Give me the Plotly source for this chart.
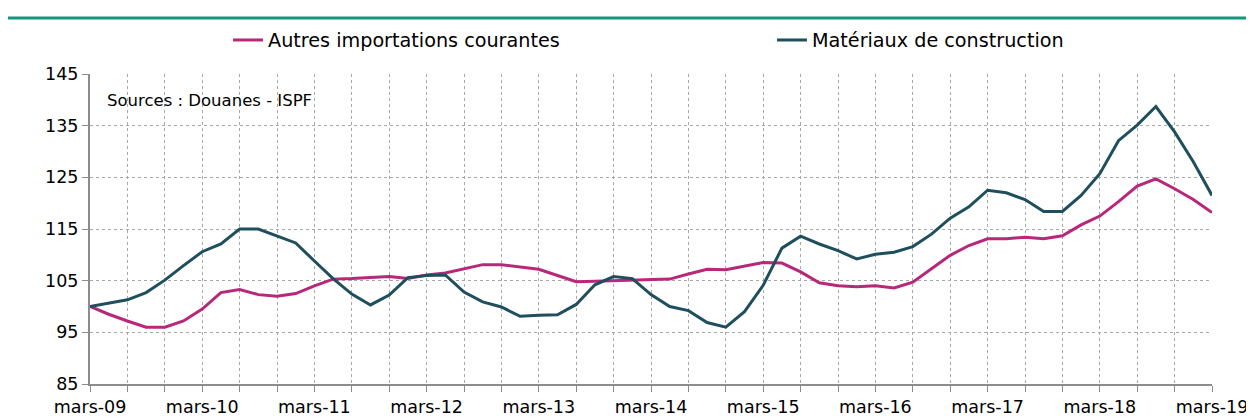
import plotly.graph_objects as go

months = ["mars", "mai", "juil", "sept", "nov", "janv"]
categories = []
for y in range(9, 20):
    for k, m in enumerate(months):
        yy = y + 1 if m == "janv" else y
        if yy > 19 or (yy == 19 and m not in ("janv", "mars")):
            continue
        categories.append(f"{m}-{yy:02d}")
categories = categories[:61]

autres = [100.0, 98.5, 97.2, 96.0, 96.0, 97.2, 99.5, 102.7, 103.3, 102.3,
          102.0, 102.5, 104.0, 105.3, 105.4, 105.6, 105.8, 105.4, 106.1, 106.5,
          107.3, 108.1, 108.1, 107.7, 107.2, 106.0, 104.8, 104.9, 105.0, 105.1,
          105.3, 105.3, 106.3, 107.2, 107.1, 107.8, 108.5, 108.4, 106.7, 104.6,
          104.0, 103.8, 104.0, 103.6, 104.7, 107.3, 109.9, 111.8, 113.1, 113.1,
          113.4, 113.1, 113.7, 115.8, 117.5, 120.3, 123.3, 124.7, 122.8, 120.7,
          118.2]

materiaux = [100.0, 100.7, 101.3, 102.7, 105.1, 107.9, 110.6, 112.1, 115.0, 115.0,
             113.7, 112.3, 108.8, 105.4, 102.4, 100.3, 102.2, 105.6, 106.0, 106.1,
             102.8, 100.9, 99.9, 98.1, 98.3, 98.4, 100.4, 104.2, 105.8, 105.4,
             102.3, 100.0, 99.2, 96.9, 96.0, 99.0, 104.1, 111.3, 113.6, 112.1,
             110.8, 109.2, 110.1, 110.5, 111.6, 114.0, 117.1, 119.3, 122.5, 122.0,
             120.7, 118.4, 118.4, 121.5, 125.7, 132.1, 135.1, 138.7, 133.8, 128.0,
             121.5]

y_ticks = [85, 95, 105, 115, 125, 135, 145]

FONT = "DejaVu Sans"
PINK = "#B8287A"
TEAL = "#1F4F5C"
GRID = "#a8a8a8"
AXIS = "#8c8c8c"

fig = go.Figure()
fig.add_trace(go.Scatter(x=categories, y=autres, mode="lines",
                         name="Autres importations courantes",
                         line=dict(color=PINK, width=3), legend="legend"))
fig.add_trace(go.Scatter(x=categories, y=materiaux, mode="lines",
                         name="Matériaux de construction",
                         line=dict(color=TEAL, width=3), legend="legend2"))

tickvals = categories[::2]
ticktext = [c if i % 6 == 0 else "" for i, c in enumerate(categories)][::2]

fig.update_xaxes(type="category", range=[0, len(categories) - 1],
                 tickvals=tickvals, ticktext=ticktext, tickangle=0,
                 showgrid=True, gridcolor=GRID, griddash="dot", gridwidth=1,
                 showline=True, linecolor=AXIS, linewidth=2,
                 ticks="outside", ticklen=6, tickcolor=AXIS, tickwidth=1,
                 tickfont=dict(family=FONT, size=17.5, color="#000"))
fig.update_yaxes(range=[85, 145], tickvals=y_ticks,
                 showgrid=True, gridcolor=GRID, griddash="dot", gridwidth=1,
                 showline=True, linecolor=AXIS, linewidth=2,
                 ticks="outside", ticklen=6, tickcolor=AXIS, tickwidth=1,
                 tickfont=dict(family=FONT, size=17.5, color="#000"),
                 zeroline=False)

# page body has an 8px default margin: figure starts at (8, 8) on screen
OFF = 8
W, H = 1254 - OFF, 419 - OFF
L = 90 - OFF
T = 74 - OFF
R = W - (1212 - OFF)
B = H - (384 - OFF)
pw = W - L - R
ph = H - T - B

legend_common = dict(orientation="h", yanchor="middle", xanchor="left",
                     bgcolor="rgba(0,0,0,0)",
                     font=dict(family=FONT, size=19.2, color="#000"))
fig.update_layout(
    width=W, height=H,
    margin=dict(l=L, r=R, t=T, b=B, autoexpand=False),
    plot_bgcolor="white", paper_bgcolor="white",
    font=dict(family=FONT, size=16, color="#000"),
    legend=dict(x=(228 - 90) / pw, y=1 + 34 / ph, **legend_common),
    legend2=dict(x=(772 - 90) / pw, y=1 + 34 / ph, **legend_common),
    showlegend=True,
)

fig.add_shape(type="line", xref="paper", yref="paper",
              x0=-90 / pw, x1=(1254 - 90) / pw,
              y0=1 + 56 / ph, y1=1 + 56 / ph,
              line=dict(color="#17957F", width=3))

fig.add_annotation(text="Sources : Douanes - ISPF", xref="paper", yref="paper",
                   x=(105 - 90) / pw, y=1 - 26 / ph,
                   xanchor="left", yanchor="middle", showarrow=False,
                   font=dict(family=FONT, size=16.5, color="#000"))

fig.write_html("out.html")
